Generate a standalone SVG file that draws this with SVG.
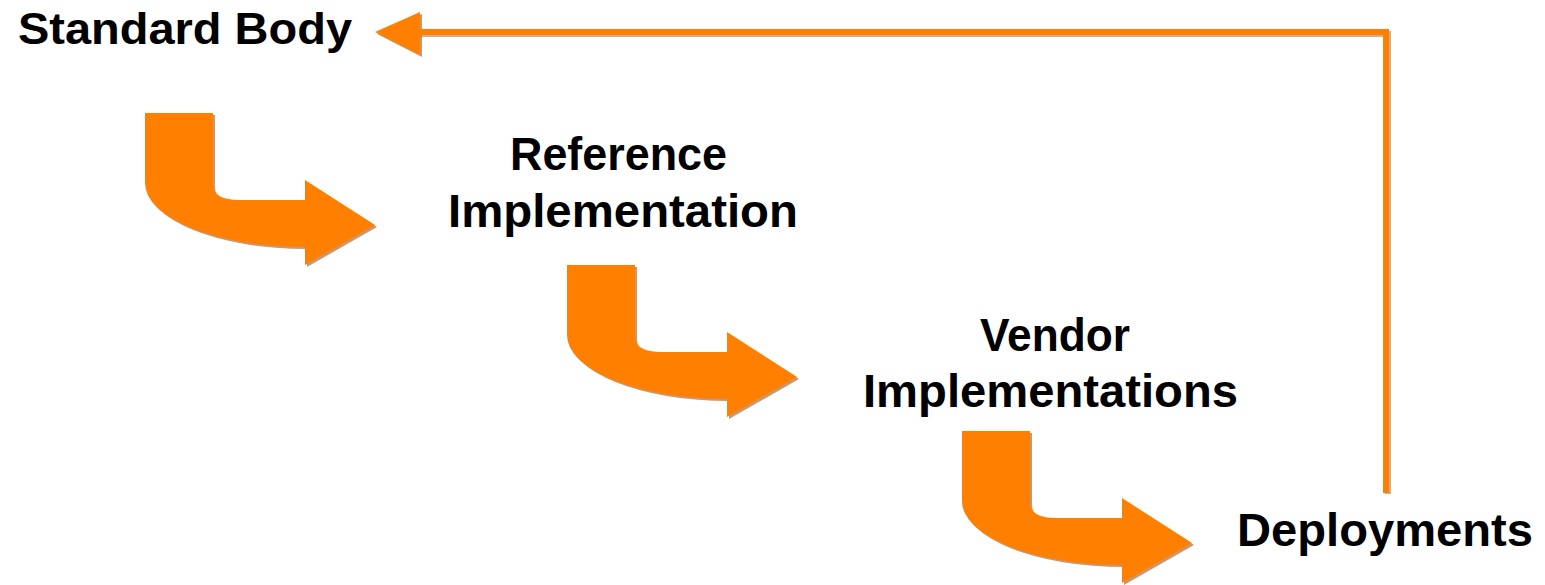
<svg xmlns="http://www.w3.org/2000/svg" xmlns:xlink="http://www.w3.org/1999/xlink" width="1545" height="585" viewBox="0 0 1545 585">
  <style>
    .lbl { font-family: "Liberation Sans", Arial, sans-serif; font-weight: bold; font-size: 47px; fill: #000; }
    .sb { font-size: 44px; }
    .arr { fill: #FF8000; }
    .shd { fill: #B97440; opacity: 0.75; }
    .line { fill: none; stroke: #FF8000; stroke-width: 6; stroke-linejoin: miter; }
    .lineshd { fill: none; stroke: #B97440; stroke-width: 6; opacity: 0.6; }
  </style>
  <defs>
    <path id="bent" d="M0,0 L68,0 L68,72 Q68,87 95,87 L160,87 L160,67 L230,112 L160,152 L160,134 A160,64 0 0 1 0,70 Z"/>
    <polygon id="head" points="375,32 420,12 420,55"/>
  </defs>
  <rect width="1545" height="585" fill="#fff"/>

  <g id="connectors">
    <g transform="translate(145,113)">
      <use xlink:href="#bent" class="shd" transform="translate(2,2)"/>
      <use xlink:href="#bent" class="arr"/>
    </g>
    <g transform="translate(567,265)">
      <use xlink:href="#bent" class="shd" transform="translate(2,2)"/>
      <use xlink:href="#bent" class="arr"/>
    </g>
    <g transform="translate(962,431)">
      <use xlink:href="#bent" class="shd" transform="translate(2,2)"/>
      <use xlink:href="#bent" class="arr"/>
    </g>
    <g id="feedback">
      <polyline class="lineshd" points="1388,494 1388,34 420,34"/>
      <use xlink:href="#head" class="shd" transform="translate(2,2)"/>
      <polyline class="line" points="1386,493 1386,32 415,32"/>
      <use xlink:href="#head" class="arr"/>
    </g>
  </g>

  <g id="standard-body">
    <text class="lbl sb" x="18" y="44" textLength="334" lengthAdjust="spacingAndGlyphs">Standard Body</text>
  </g>
  <g id="reference-implementation">
    <text class="lbl" x="510" y="170" textLength="217" lengthAdjust="spacingAndGlyphs">Reference</text>
    <text class="lbl" x="448" y="227" textLength="350" lengthAdjust="spacingAndGlyphs">Implementation</text>
  </g>
  <g id="vendor-implementations">
    <text class="lbl" x="980" y="351" textLength="150" lengthAdjust="spacingAndGlyphs">Vendor</text>
    <text class="lbl" x="863" y="407" textLength="375" lengthAdjust="spacingAndGlyphs">Implementations</text>
  </g>
  <g id="deployments">
    <text class="lbl" x="1237" y="546" textLength="296" lengthAdjust="spacingAndGlyphs">Deployments</text>
  </g>
</svg>
